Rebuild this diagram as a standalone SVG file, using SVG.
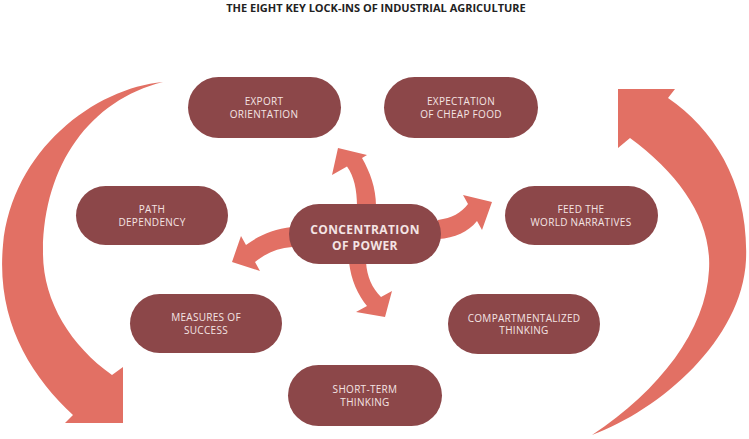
<svg xmlns="http://www.w3.org/2000/svg" width="749" height="439" viewBox="0 0 749 439">
<style>
.arrow{fill:#e27064}
.pill{fill:#8c4749}
.lbl{font-family:"Open Sans","Noto Sans",sans-serif;font-size:10px;fill:#f4e4e4;text-anchor:middle;letter-spacing:0.3px}
.ctr{font-family:"Open Sans","Noto Sans",sans-serif;font-size:12px;font-weight:bold;fill:#f4e4e4;text-anchor:middle;letter-spacing:0.4px}
.title{font-family:"Open Sans","Noto Sans",sans-serif;font-size:11px;font-weight:bold;fill:#222;text-anchor:middle}
</style>
<rect width="749" height="439" fill="#ffffff"/>
<text class="title" x="376" y="12">THE EIGHT KEY LOCK-INS OF INDUSTRIAL AGRICULTURE</text>
<g id="connectors">
<path class="arrow" d="M163,82 C95,88 12,150 3,245 C-4,320 30,375 73,415 L65,423 L123,423 L123,367 L112,375 C70,345 42,300 43,250 C44,165 90,100 163,82 Z"/>
<path class="arrow" d="M592,435 C660,410 742,340 746,260 C749,185 715,130 668,98 L675,89 L618,89 L618,148 L630,138 C680,175 712,220 709,270 C706,330 660,390 592,435 Z"/>
<path class="arrow" d="M357,206 C357,190 354,176 347,166.5 L332,175 L338,148 L367,155 L362,158 C370,172 376,188 376,206 Z"/>
<path class="arrow" d="M438,220 C452,218 461,213 468,204 L463,195 L492,202 L482,230 L477,221 C468,232 455,238 438,239 Z"/>
<path class="arrow" d="M292,227 C273,229 258,236 246,245 L241,236 L232,262 L260,271 L255,262 C266,253 278,248 292,247 Z"/>
<path class="arrow" d="M349,262 C351,280 358,295 367,306 L356,312 L385,317 L392,291 L381,297 C372,288 367,277 366,262 Z"/>
</g>
<g id="export">
<rect class="pill" x="188" y="77" width="153" height="61" rx="30.5"/>
<text class="lbl" x="264" y="105">EXPORT</text>
<text class="lbl" x="264" y="117.5">ORIENTATION</text>
</g>
<g id="cheapfood">
<rect class="pill" x="384" y="77" width="154" height="61" rx="30.5"/>
<text class="lbl" x="461" y="105">EXPECTATION</text>
<text class="lbl" x="461" y="117.5">OF CHEAP FOOD</text>
</g>
<g id="path">
<rect class="pill" x="76" y="186" width="152" height="59" rx="29.5"/>
<text class="lbl" x="152" y="213">PATH</text>
<text class="lbl" x="152" y="225.5">DEPENDENCY</text>
</g>
<g id="center">
<rect class="pill" x="289" y="204" width="152" height="60" rx="30"/>
<text class="ctr" x="365" y="234">CONCENTRATION</text>
<text class="ctr" x="365" y="250">OF POWER</text>
</g>
<g id="feed">
<rect class="pill" x="505" y="186" width="153" height="59" rx="29.5"/>
<text class="lbl" x="581" y="213">FEED THE</text>
<text class="lbl" x="581" y="225.5">WORLD NARRATIVES</text>
</g>
<g id="measures">
<rect class="pill" x="130" y="294" width="152" height="59" rx="29.5"/>
<text class="lbl" x="206" y="321">MEASURES OF</text>
<text class="lbl" x="206" y="333.5">SUCCESS</text>
</g>
<g id="compart">
<rect class="pill" x="448" y="294" width="152" height="60" rx="30"/>
<text class="lbl" x="524" y="321.5">COMPARTMENTALIZED</text>
<text class="lbl" x="524" y="334">THINKING</text>
</g>
<g id="shortterm">
<rect class="pill" x="288" y="365" width="154" height="61" rx="30.5"/>
<text class="lbl" x="365" y="393">SHORT-TERM</text>
<text class="lbl" x="365" y="405.5">THINKING</text>
</g>
</svg>
